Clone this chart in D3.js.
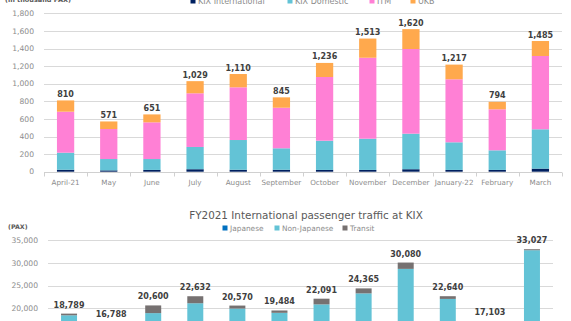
<!DOCTYPE html>
<html lang="en">
<head>
<meta charset="UTF-8">
<title>KIX / ITM / UKB passenger traffic FY2021</title>
<script src="https://cdn.jsdelivr.net/npm/d3@7"></script>
<style>
    body { margin: 0; background: #fff; }
    svg { display: block; font-family: "DejaVu Sans", Verdana, sans-serif; }
    .tick-label { fill: #8c8c8c; }
    .legend-text { fill: #8c8c8c; }
    .value-label { fill: #404040; font-weight: bold; }
</style>
</head>
<body>
<div id="chart"></div>
<script>
    // ---- data: top chart (thousand PAX) ----
    const months = ["April-21", "May", "June", "July", "August", "September",
        "October", "November", "December", "January-22", "February", "March"];
    const airportKeys = ["KIX International", "KIX Domestic", "ITM", "UKB"];
    const kixInternational = [22, 15, 20, 28, 22, 22, 20, 20, 28, 20, 20, 35];
    const kixDomestic = [194, 129, 124, 253, 338, 244, 332, 355, 404, 314, 223, 447];
    const itm = [466, 341, 417, 610, 599, 461, 724, 920, 962, 716, 466, 833];
    const ukb = [128, 86, 90, 138, 151, 118, 160, 218, 226, 167, 85, 170];
    const topTicks = [0, 200, 400, 600, 800, 1000, 1200, 1400, 1600, 1800];

    // ---- data: bottom chart (PAX) ----
    const paxKeys = ["Japanese", "Non-Japanese", "Transit"];
    const japanese = [3900, 3700, 4300, 5200, 4800, 4600, 5400, 6300, 8900, 6800, 4100, 7900];
    const nonJapanese = [14519, 12838, 14600, 15882, 15110, 14364, 15431, 16965, 19780, 15240, 12753, 24907];
    const transit = [370, 250, 1700, 1550, 660, 520, 1260, 1100, 1400, 600, 250, 220];
    const bottomTicks = [20000, 25000, 30000, 35000];

    const W = 571, H = 321;
    const svg = d3.select("#chart").append("svg")
        .attr("width", W).attr("height", H);

    const fmt = d3.format(",");

    function stackedChart(opts) {
        const rows = months.map((m, i) => {
            const r = { month: m };
            opts.keys.forEach((k, j) => r[k] = opts.series[j][i]);
            return r;
        });
        const stacked = d3.stack().keys(opts.keys)(rows);

        const x = d3.scaleBand().domain(months)
            .range([opts.x0, opts.x1])
            .paddingInner(opts.pad).paddingOuter(opts.pad / 2);
        const y = d3.scaleLinear().domain(opts.domain).range(opts.yRange);
        const color = d3.scaleOrdinal().domain(opts.keys).range(opts.colors);

        const g = svg.append("g");

        // gridlines
        g.selectAll(".grid")
            .data(opts.ticks.filter(t => t !== 0))
            .join("line")
            .attr("x1", opts.x0).attr("x2", opts.x1)
            .attr("y1", d => Math.round(y(d)) + 0.5).attr("y2", d => Math.round(y(d)) + 0.5)
            .attr("stroke", "#d9d9d9").attr("stroke-width", 1);

        // y tick labels
        g.selectAll(".ytick")
            .data(opts.ticks)
            .join("text")
            .attr("class", "tick-label")
            .attr("x", opts.x0 - 10)
            .attr("y", d => y(d))
            .attr("dy", "0.35em")
            .attr("text-anchor", "end")
            .style("font-size", "7.6px")
            .text(d => fmt(d));

        // bars
        g.selectAll(".layer")
            .data(stacked)
            .join("g")
            .attr("fill", d => color(d.key))
            .selectAll("rect")
            .data(d => d)
            .join("rect")
            .attr("x", d => x(d.data.month))
            .attr("width", x.bandwidth())
            .attr("y", d => y(d[1]))
            .attr("height", d => y(d[0]) - y(d[1]));

        // total labels
        const totals = months.map((m, i) => ({
            month: m,
            total: d3.sum(opts.series, s => s[i])
        }));
        g.selectAll(".value-label")
            .data(totals)
            .join("text")
            .attr("class", "value-label")
            .attr("x", d => x(d.month) + x.bandwidth() / 2)
            .attr("y", d => y(d.total) - opts.labelGap)
            .attr("text-anchor", "middle")
            .style("font-size", "8px")
            .text(d => fmt(d.total));

        return { x, y, g, color };
    }

    // ---- top chart ----
    const topChart = stackedChart({
        keys: airportKeys,
        series: [kixInternational, kixDomestic, itm, ukb],
        colors: ["#002060", "#63c3d6", "#ff80d5", "#ffa94d"],
        x0: 44, x1: 562, pad: 0.6,
        domain: [0, 1800], yRange: [171.7, 13.3],
        ticks: topTicks, labelGap: 3.5
    });

    // x axis of top chart
    const axisY = Math.round(topChart.y(0)) + 0.5;
    topChart.g.append("line")
        .attr("x1", 44).attr("x2", 562)
        .attr("y1", axisY).attr("y2", axisY)
        .attr("stroke", "#d0d0d0");
    topChart.g.selectAll(".xtickmark")
        .data(months.map(m => topChart.x(m) - topChart.x.step() * topChart.x.paddingInner() / 2).concat([562]))
        .join("line")
        .attr("x1", d => Math.round(d) + 0.5).attr("x2", d => Math.round(d) + 0.5)
        .attr("y1", axisY).attr("y2", axisY + 4)
        .attr("stroke", "#d0d0d0");
    topChart.g.selectAll(".xtick")
        .data(months)
        .join("text")
        .attr("class", "tick-label")
        .attr("x", d => topChart.x(d) + topChart.x.bandwidth() / 2)
        .attr("y", 182)
        .attr("dy", "0.35em")
        .attr("text-anchor", "middle")
        .style("font-size", "7.2px")
        .text(d => d);

    // top legend + axis title
    svg.append("text")
        .attr("x", 5).attr("y", 2)
        .attr("fill", "#595959")
        .style("font-size", "6.5px")
        .style("font-weight", "bold")
        .text("(in thousand PAX)");

    const topLegendX = [193, 290, 372, 413];
    const topLegend = svg.append("g").selectAll("g")
        .data(airportKeys)
        .join("g")
        .attr("transform", (d, i) => `translate(${topLegendX[i]},1)`);
    topLegend.append("rect")
        .attr("x", -2.5).attr("y", -2.5).attr("width", 5).attr("height", 5)
        .attr("fill", d => topChart.color(d));
    topLegend.append("text")
        .attr("class", "legend-text")
        .attr("x", 5).attr("dy", "0.35em")
        .style("font-size", "8px")
        .text(d => d);

    // ---- bottom chart ----
    const bottomChart = stackedChart({
        keys: paxKeys,
        series: [japanese, nonJapanese, transit],
        colors: ["#0070c0", "#63c3d6", "#767171"],
        x0: 48, x1: 553, pad: 0.62,
        domain: [0, 35000], yRange: [398.6, 240.3],
        ticks: bottomTicks, labelGap: 6
    });

    svg.append("text")
        .attr("x", 306).attr("y", 215)
        .attr("dy", "0.35em")
        .attr("text-anchor", "middle")
        .attr("fill", "#595959")
        .style("font-size", "10.4px")
        .text("FY2021 International passenger traffic at KIX");

    svg.append("text")
        .attr("x", 8).attr("y", 227)
        .attr("dy", "0.35em")
        .attr("fill", "#595959")
        .style("font-size", "6.3px")
        .style("font-weight", "bold")
        .text("(PAX)");

    const bottomLegendX = [225, 277, 345];
    const bottomLegend = svg.append("g").selectAll("g")
        .data(paxKeys)
        .join("g")
        .attr("transform", (d, i) => `translate(${bottomLegendX[i]},228)`);
    bottomLegend.append("rect")
        .attr("x", -2.5).attr("y", -2.5).attr("width", 5).attr("height", 5)
        .attr("fill", d => bottomChart.color(d));
    bottomLegend.append("text")
        .attr("class", "legend-text")
        .attr("x", 5).attr("dy", "0.35em")
        .style("font-size", "7.4px")
        .text(d => d);
</script>
</body>
</html>
